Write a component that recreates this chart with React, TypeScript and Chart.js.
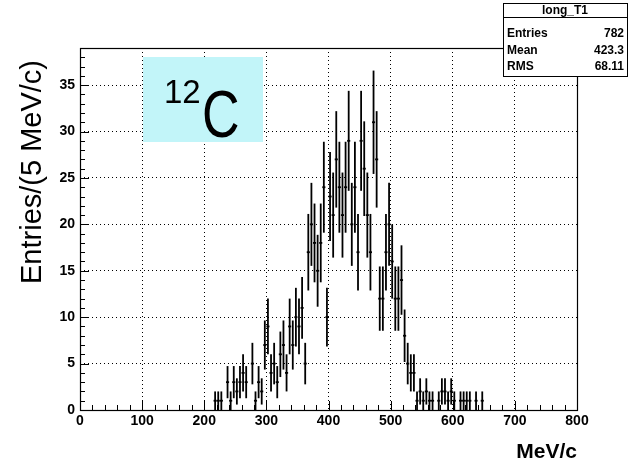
import React, { useEffect, useRef } from "react";
import { Chart, registerables } from "chart.js";

Chart.register(...registerables);

// Momentum histogram, 5 MeV/c bins (lower edges) and entries per bin
const binWidth = 5;
const binLowEdges = [
  215, 220, 225, 230, 235, 240, 245, 250, 255, 260, 265, 270, 275, 280, 285, 290,
  295, 300, 305, 310, 315, 320, 325, 330, 335, 340, 345, 350, 355, 360,
  365, 370, 375, 380, 385, 390, 395, 400, 405, 410, 415, 420,
  425, 430, 435, 440, 445, 450, 455, 460, 465, 470, 475, 480,
  485, 490, 495, 500, 505, 510, 515, 520, 525, 530, 535, 540,
  545, 550, 555, 560, 565, 570, 575, 580, 585, 590, 595, 600, 605, 610, 615, 620, 625, 630, 635, 640, 645,
];
const binCounts = [
  1, 1, 1, 0, 3, 1, 3, 2, 3, 4, 3, 0, 5, 1, 3, 2,
  7, 9, 4, 5, 3, 6, 7, 4, 9, 7, 10, 9, 11, 5,
  17, 20, 18, 15, 18, 24, 10, 23, 21, 27, 24, 21,
  24, 29, 20, 24, 17, 29, 26, 21, 17, 31, 27, 12,
  12, 17, 20, 16, 12, 12, 14, 8, 5, 4, 4, 1,
  2, 1, 2, 1, 1, 0, 1, 2, 2, 1, 2, 1, 0, 1, 1, 1, 1, 0, 1, 0, 1,
];

const xTickValues = [0, 100, 200, 300, 400, 500, 600, 700, 800];
const yTickValues = [0, 5, 10, 15, 20, 25, 30, 35];
const xMin = 0;
const xMax = 800;
const xMinorStep = 20;
const yMin = 0;
const yMax = 39;
const yMinorStep = 1;

const histName = "long_T1";
const statLabels = ["Entries", "Mean", "RMS"];
const statValues = ["782", "423.3", "68.11"];
const xAxisTitle = "MeV/c";
const yAxisTitle = "Entries/(5 MeV/c)";
const nucleusMass = "12";
const nucleusSymbol = "C";

const FONT = "'Liberation Sans', Arial, Helvetica, sans-serif";

const rootStyle = {
  id: "rootStyle",
  beforeDatasetsDraw(chart: any) {
    const { ctx, chartArea: a } = chart;
    // target label pave
    ctx.save();
    ctx.fillStyle = "#c2f5f9";
    ctx.fillRect(a.left + 63, a.top + 9, 120, 85);
    ctx.fillStyle = "#000";
    ctx.textBaseline = "alphabetic";
    ctx.textAlign = "left";
    ctx.font = `33px ${FONT}`;
    ctx.fillText(nucleusMass, a.left + 84, a.top + 55);
    ctx.save();
    ctx.translate(a.left + 122, a.top + 89);
    ctx.scale(1, 1.3);
    ctx.font = `52px ${FONT}`;
    ctx.fillText(nucleusSymbol, 0, 0);
    ctx.restore();
    ctx.restore();
  },
  afterDatasetsDraw(chart: any) {
    const { ctx } = chart;
    const xs = chart.scales.x;
    const ys = chart.scales.y;
    ctx.save();
    ctx.strokeStyle = "#000";
    ctx.lineWidth = 1.8;
    for (const p of chart.data.datasets[0].data as { x: number; y: number }[]) {
      const err = Math.sqrt(p.y);
      const xc = xs.getPixelForValue(p.x);
      ctx.beginPath();
      ctx.moveTo(xc, ys.getPixelForValue(Math.max(0, p.y - err)));
      ctx.lineTo(xc, ys.getPixelForValue(p.y + err));
      ctx.stroke();
    }
    ctx.restore();
  },
  afterDraw(chart: any) {
    const { ctx, chartArea: a } = chart;
    const xs = chart.scales.x;
    const ys = chart.scales.y;
    ctx.save();
    ctx.strokeStyle = "#000";
    ctx.lineWidth = 1;
    // inward tick marks
    ctx.beginPath();
    for (let v = xMin; v <= xMax; v += xMinorStep) {
      const px = Math.round(xs.getPixelForValue(v)) + 0.5;
      const len = xTickValues.includes(v) ? 9 : 5;
      ctx.moveTo(px, a.bottom);
      ctx.lineTo(px, a.bottom - len);
    }
    for (let v = yMin; v <= yMax; v += yMinorStep) {
      const py = Math.round(ys.getPixelForValue(v)) + 0.5;
      const len = yTickValues.includes(v) ? 9 : 5;
      ctx.moveTo(a.left, py);
      ctx.lineTo(a.left + len, py);
    }
    ctx.stroke();
    // frame
    ctx.lineWidth = 1.2;
    ctx.strokeRect(Math.round(a.left) + 0.5, Math.round(a.top) + 0.5, Math.round(a.right - a.left), Math.round(a.bottom - a.top));

    // axis titles
    ctx.fillStyle = "#000";
    ctx.font = `bold 21px ${FONT}`;
    ctx.textAlign = "right";
    ctx.textBaseline = "alphabetic";
    ctx.fillText(xAxisTitle, a.right, 458);

    ctx.save();
    ctx.translate(33, 172);
    ctx.rotate(-Math.PI / 2);
    ctx.font = `29px ${FONT}`;
    ctx.textAlign = "center";
    ctx.textBaseline = "middle";
    ctx.fillText(yAxisTitle, 0, 0);
    ctx.restore();

    // statistics box
    const bx = 503, by = 3, bw = 124, bh = 73;
    ctx.fillStyle = "#fff";
    ctx.fillRect(bx, by, bw, bh);
    ctx.lineWidth = 1;
    ctx.strokeRect(bx + 0.5, by + 0.5, bw, bh);
    ctx.beginPath();
    ctx.moveTo(bx, by + 14.5);
    ctx.lineTo(bx + bw, by + 14.5);
    ctx.stroke();
    ctx.fillStyle = "#000";
    ctx.font = `bold 12px ${FONT}`;
    ctx.textBaseline = "middle";
    ctx.textAlign = "center";
    ctx.fillText(histName, bx + bw / 2, by + 8);
    const rowY = [34, 51, 67];
    statLabels.forEach((lab, i) => {
      ctx.textAlign = "left";
      ctx.fillText(lab, bx + 4, rowY[i]);
      ctx.textAlign = "right";
      ctx.fillText(statValues[i], bx + bw - 3, rowY[i]);
    });
    ctx.restore();
  },
};

export default function App() {
  const canvasRef = useRef<HTMLCanvasElement | null>(null);

  useEffect(() => {
    document.body.style.margin = "0";
    const canvas = canvasRef.current;
    if (!canvas) return;
    const points = binLowEdges
      .map((edge, i) => ({ x: edge + binWidth / 2, y: binCounts[i] }))
      .filter((p) => p.y > 0);

    const gridColor = (ctx: any) => {
      const v = ctx.tick ? ctx.tick.value : null;
      const sc = ctx.scale;
      if (v === null || v === sc.min || v === sc.max) return "rgba(0,0,0,0)";
      return "#000";
    };

    const chart = new Chart(canvas, {
      type: "scatter",
      data: {
        datasets: [
          {
            data: points,
            pointStyle: "line",
            pointRadius: (5 * 0.62) / 2,
            pointHoverRadius: (5 * 0.62) / 2,
            borderColor: "#000",
            backgroundColor: "#000",
            borderWidth: 1.8,
            showLine: false,
          } as any,
        ],
      },
      options: {
        responsive: false,
        animation: false,
        devicePixelRatio: 1,
        events: [],
        layout: { padding: { top: 48, right: 53, left: 0, bottom: 0 } },
        plugins: { legend: { display: false }, tooltip: { enabled: false } },
        scales: {
          x: {
            type: "linear",
            min: xMin,
            max: xMax,
            afterFit: (s: any) => { s.height = 59; },
            afterBuildTicks: (s: any) => { s.ticks = xTickValues.map((v) => ({ value: v })); },
            ticks: {
              color: "#000",
              font: { family: FONT, size: 14, weight: "bold" },
              padding: 3,
              maxRotation: 0,
              autoSkip: false,
            },
            grid: { color: gridColor, lineWidth: 1, drawTicks: false },
            border: { display: false, dash: [1, 3] },
          },
          y: {
            type: "linear",
            min: yMin,
            max: yMax,
            afterFit: (s: any) => { s.width = 80; },
            afterBuildTicks: (s: any) => { s.ticks = yTickValues.map((v) => ({ value: v })); },
            ticks: {
              color: "#000",
              font: { family: FONT, size: 14, weight: "bold" },
              padding: 5,
              autoSkip: false,
            },
            grid: { color: gridColor, lineWidth: 1, drawTicks: false },
            border: { display: false, dash: [1, 3] },
          },
        },
      },
      plugins: [rootStyle],
    });
    return () => chart.destroy();
  }, []);

  return (
    <div style={{ position: "absolute", left: 0, top: 0, width: 630, height: 469, background: "#fff" }}>
      <canvas ref={canvasRef} width={630} height={469} />
    </div>
  );
}
